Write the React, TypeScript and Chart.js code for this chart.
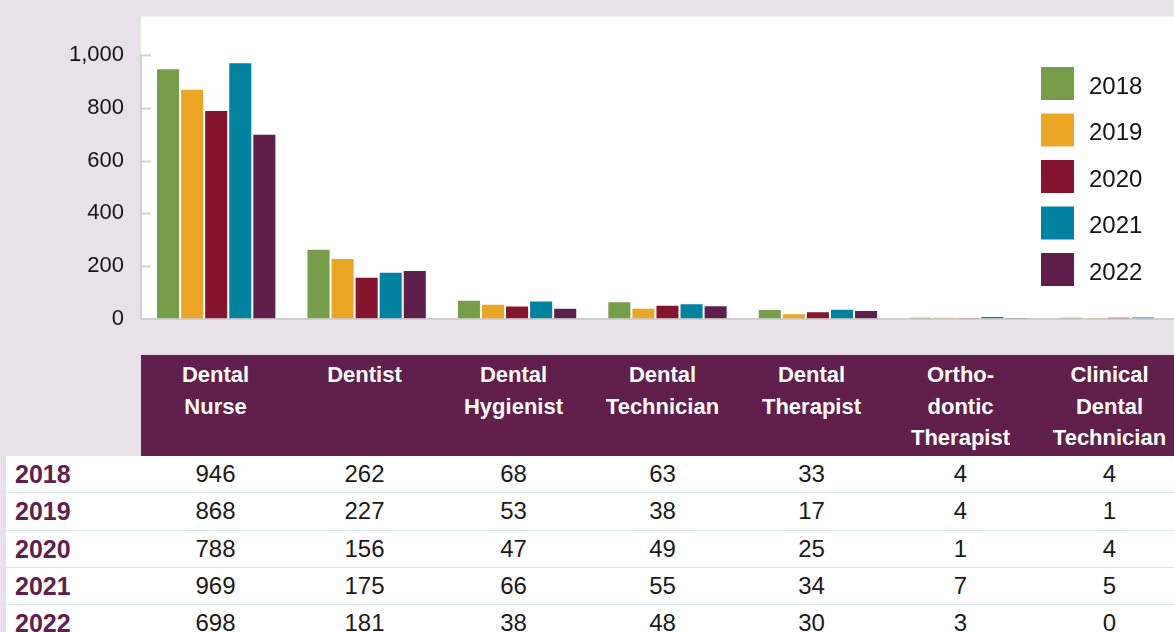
import React, { useEffect, useRef } from "react";
import { Chart, registerables } from "chart.js";

Chart.register(...registerables);

// ---------- data ----------
const categories: string[][] = [
  ["Dental", "Nurse"],
  ["Dentist"],
  ["Dental", "Hygienist"],
  ["Dental", "Technician"],
  ["Dental", "Therapist"],
  ["Ortho-", "dontic", "Therapist"],
  ["Clinical", "Dental", "Technician"],
];
const years = ["2018", "2019", "2020", "2021", "2022"];
const values2018 = [946, 262, 68, 63, 33, 4, 4];
const values2019 = [868, 227, 53, 38, 17, 4, 1];
const values2020 = [788, 156, 47, 49, 25, 1, 4];
const values2021 = [969, 175, 66, 55, 34, 7, 5];
const values2022 = [698, 181, 38, 48, 30, 3, 0];
const seriesColors = ["#769d4a", "#eba623", "#85152f", "#0083a1", "#5f1f4c"];
const yMin = 0;
const yMax = 1000;
const yStep = 200;

const seriesValues = [values2018, values2019, values2020, values2021, values2022];

// ---------- styles ----------
const FONT = '"Liberation Sans", Arial, Helvetica, sans-serif';
const BG = "#e9e1e9";
const HEADER_BG = "#611f4d";
const YEAR_COLOR = "#611f4d";
const COL_W = 149;
const TABLE_LEFT = 141;
const ROW_TOP = 456;
const ROW_H = 37.3;

const panelPlugin = {
  id: "whitePanel",
  beforeDraw(chart: any) {
    const { ctx, chartArea, width } = chart;
    const top = chartArea.top - 38.5;
    ctx.save();
    ctx.fillStyle = "#ffffff";
    ctx.fillRect(chartArea.left, top, width - chartArea.left, chartArea.bottom - top);
    ctx.restore();
  },
};

const innerTicksPlugin = {
  id: "innerTicks",
  afterDatasetsDraw(chart: any) {
    const { ctx, chartArea } = chart;
    const y = chart.scales.y;
    ctx.save();
    ctx.strokeStyle = "#d2d2d2";
    ctx.lineWidth = 2;
    y.ticks.forEach((t: any) => {
      const py = Math.round(y.getPixelForValue(t.value)) + 0.5;
      if (t.value === yMin) return;
      ctx.beginPath();
      ctx.moveTo(chartArea.left, py);
      ctx.lineTo(chartArea.left + 10, py);
      ctx.stroke();
    });
    ctx.restore();
  },
};

const legendPlugin = {
  id: "boxLegend",
  afterDraw(chart: any) {
    const { ctx } = chart;
    ctx.save();
    ctx.font = `24px ${FONT}`;
    ctx.textBaseline = "middle";
    ctx.textAlign = "left";
    chart.data.datasets.forEach((ds: any, i: number) => {
      const top = 67 + i * 46.5;
      ctx.fillStyle = ds.backgroundColor;
      ctx.fillRect(1041, top, 33, 33);
      ctx.fillStyle = "#141414";
      ctx.fillText(ds.label, 1089, top + 20);
    });
    ctx.restore();
  },
};

function BarChart() {
  const ref = useRef<HTMLCanvasElement | null>(null);
  useEffect(() => {
    if (!ref.current) return;
    const chart = new Chart(ref.current, {
      type: "bar",
      data: {
        labels: categories,
        datasets: years.map((yr, i) => ({
          label: yr,
          data: seriesValues[i],
          backgroundColor: seriesColors[i],
          borderWidth: 0,
          categoryPercentage: 0.8,
          barPercentage: 0.917,
        })),
      },
      options: {
        responsive: false,
        animation: false,
        locale: "en-US",
        layout: { padding: { left: 0, right: 0, top: 55, bottom: 12 } },
        plugins: {
          legend: { display: false },
          tooltip: { enabled: false },
        },
        scales: {
          x: {
            ticks: { display: false },
            grid: { display: false, drawTicks: false },
            border: { display: true, color: "#cfcfcf", width: 2 },
          },
          y: {
            min: yMin,
            max: yMax,
            ticks: {
              stepSize: yStep,
              padding: 17,
              color: "#141414",
              font: { family: FONT, size: 22 },
            },
            grid: { display: true, drawOnChartArea: false, drawTicks: false },
            border: { display: true, color: "#d2d2d2", width: 2 },
            afterFit: (scale: any) => {
              scale.width = 141;
            },
          },
        },
      },
      plugins: [panelPlugin, innerTicksPlugin, legendPlugin],
    } as any);
    return () => chart.destroy();
  }, []);
  return (
    <canvas
      ref={ref}
      width={1194}
      height={349}
      style={{ position: "absolute", left: 0, top: 0, width: 1194, height: 349 }}
    />
  );
}

function DataTable() {
  return (
    <>
      <div
        style={{
          position: "absolute",
          left: TABLE_LEFT,
          top: 355,
          width: 1100,
          height: 102,
          background: HEADER_BG,
        }}
      >
        {categories.map((lines, c) => (
          <div
            key={c}
            style={{
              position: "absolute",
              left: c * COL_W,
              top: 4,
              width: COL_W,
              textAlign: "center",
              color: "#ffffff",
              fontWeight: "bold",
              fontSize: 22,
              lineHeight: "31.5px",
              whiteSpace: "nowrap",
            }}
          >
            {lines.map((l, k) => (
              <div key={k}>{l}</div>
            ))}
          </div>
        ))}
      </div>
      {years.map((yr, r) => (
        <div
          key={yr}
          style={{
            position: "absolute",
            left: 6,
            top: ROW_TOP + r * ROW_H,
            width: 1200,
            height: ROW_H,
            boxSizing: "border-box",
            background: "#ffffff",
            borderBottom: "1px solid #d3e5ee",
          }}
        >
          <div
            style={{
              position: "absolute",
              left: 9,
              top: 0,
              lineHeight: `${ROW_H - 1}px`,
              fontSize: 25,
              fontWeight: "bold",
              color: YEAR_COLOR,
            }}
          >
            {yr}
          </div>
          {seriesValues[r].map((v, c) => (
            <div
              key={c}
              style={{
                position: "absolute",
                left: TABLE_LEFT - 6 + c * COL_W,
                top: 0,
                width: COL_W,
                textAlign: "center",
                lineHeight: `${ROW_H - 1}px`,
                fontSize: 24,
                color: "#1a1a1a",
              }}
            >
              {v}
            </div>
          ))}
        </div>
      ))}
    </>
  );
}

export default function App() {
  return (
    <div
      style={{
        position: "absolute",
        left: 0,
        top: 0,
        width: 1174,
        height: 632,
        overflow: "hidden",
        background: BG,
        fontFamily: FONT,
      }}
    >
      <BarChart />
      <DataTable />
    </div>
  );
}
